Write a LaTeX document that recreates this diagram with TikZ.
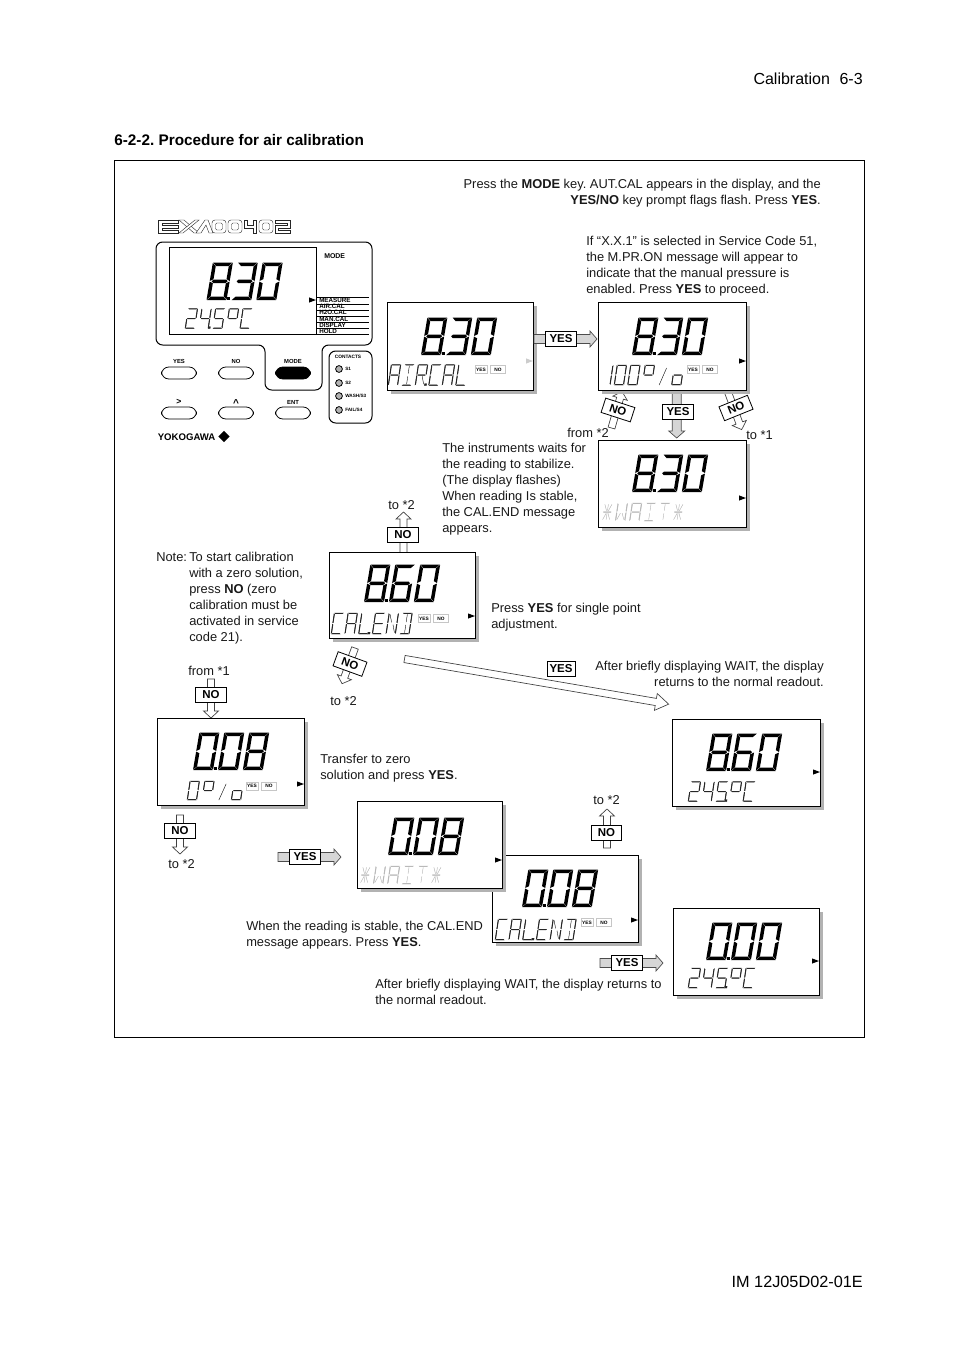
\documentclass[tikz,border=0pt]{standalone}
\usepackage{fontspec}
\setmainfont{Liberation Sans}
\usetikzlibrary{shapes.geometric}
\tikzset{
  bigseg/.style={fill=black,draw=none},
  smallseg/.style={draw=black!85,fill=black!85,line width=0.3pt},
  waitseg/.style={draw=gray!55,fill=gray!55,line width=0.3pt},
  txtn/.style={inner sep=0pt,yshift=-0.75pt,align=left,font=\fontsize{9.65}{12}\selectfont\frenchspacing,text=black!90},
  txtr/.style={inner sep=0pt,yshift=-0.75pt,align=right,font=\fontsize{9.65}{12}\selectfont\frenchspacing,text=black!90},
  keybox/.style={draw=black,line width=0.6pt,fill=white,inner sep=0pt,minimum width=23pt,minimum height=11.25pt,font=\fontsize{8.6}{10}\bfseries\selectfont},
  tag/.style={draw=gray!45,line width=0.35pt,fill=white,inner sep=0pt,minimum height=6pt,font=\fontsize{3.6}{4}\bfseries\selectfont},
  tiny/.style={inner sep=0pt,anchor=west,font=\fontsize{4.7}{5}\bfseries\selectfont},
  btnlab/.style={inner sep=0pt,font=\fontsize{4.4}{5}\bfseries\selectfont},
  hollow/.style={draw=black!75,line width=0.5pt,fill=white},
  solidarrow/.style={draw=black!70,line width=0.5pt,fill=gray!32},
  btn/.style={draw=black,line width=0.6pt,fill=white},
  logo/.style={draw=black!85,line width=0.3pt,fill=white},
}
% ---- segment geometry
\def\SGa{({\sG},\sH)--({\sW-\sG},\sH)--({\sW-\sG-\sT},{\sH-\sT})--({\sG+\sT},{\sH-\sT})--cycle}
\def\SGd{({\sG},0)--({\sW-\sG},0)--({\sW-\sG-\sT},\sT)--({\sG+\sT},\sT)--cycle}
\def\SGf{(0,{\sH-\sG})--(\sT,{\sH-\sG-\sT})--(\sT,{\sH/2+\sG+\sT/2})--(0,{\sH/2+\sG})--cycle}
\def\SGe{(0,\sG)--(\sT,{\sG+\sT})--(\sT,{\sH/2-\sG-\sT/2})--(0,{\sH/2-\sG})--cycle}
\def\SGb{(\sW,{\sH-\sG})--({\sW-\sT},{\sH-\sG-\sT})--({\sW-\sT},{\sH/2+\sG+\sT/2})--(\sW,{\sH/2+\sG})--cycle}
\def\SGc{(\sW,\sG)--({\sW-\sT},{\sG+\sT})--({\sW-\sT},{\sH/2-\sG-\sT/2})--(\sW,{\sH/2-\sG})--cycle}
\def\SGg{({\sG+\sT/2},{\sH/2})--({\sG+\sT},{\sH/2+\sT/2})--({\sW-\sG-\sT},{\sH/2+\sT/2})--({\sW-\sG-\sT/2},{\sH/2})--({\sW-\sG-\sT},{\sH/2-\sT/2})--({\sG+\sT},{\sH/2-\sT/2})--cycle}
\def\SGh{({\sW/2},{\sH-\sT-\sG})--({\sW/2},{\sH/2+\sT+\sG})}
\def\SGj{({\sW/2},{\sT+\sG})--({\sW/2},{\sH/2-\sT-\sG})}
\def\SGk{({\sW/2+.9},{\sH/2-\sT-.6})--({\sW-\sT-.8},{\sT+.8})}
\def\SGn{({\sW/2-.9},{\sH/2-\sT-.6})--({\sT+.8},{\sT+.8})}
\def\SGm{({\sW/2-.9},{\sH/2+\sT+.6})--({\sT+.8},{\sH-\sT-.8})}
\def\SGp{({\sW/2+.9},{\sH/2+\sT+.6})--({\sW-\sT-.8},{\sH-\sT-.8})}
\def\SGs{({\sW*.25},0)--({\sW*.75},{\sH*.85})}
\def\SGz{({\sW-.5},0)--({\sW+1.6},0)--({\sW+1.6},1.8)--({\sW-.5},1.8)--cycle}
\newcommand\sev[9]{\begin{scope}[shift={({#1},{#2})},y=0.75pt,xslant=#9]%
  \pgfmathsetmacro\sW{#3}\def\sH{#4}\def\sT{#5}\def\sG{#8}\edef\seglist{#6}%
  \foreach \s in \seglist{\expandafter\let\expandafter\thisseg\csname SG\s\endcsname\path[#7] \thisseg;}%
\end{scope}}
% ---- characters
\expandafter\def\csname ch0\endcsname{a,b,c,d,e,f}
\expandafter\def\csname ch1\endcsname{b,c}
\expandafter\def\csname ch2\endcsname{a,b,g,e,d}
\expandafter\def\csname ch3\endcsname{a,b,g,c,d}
\expandafter\def\csname ch4\endcsname{f,g,b,c}
\expandafter\def\csname ch5\endcsname{a,f,g,c,d}
\expandafter\def\csname ch5z\endcsname{a,f,g,c,d,z}
\expandafter\def\csname ch4z\endcsname{f,g,b,c,z}
\expandafter\def\csname ch6\endcsname{a,f,g,c,d,e}
\expandafter\def\csname ch8\endcsname{a,b,c,d,e,f,g}
\expandafter\def\csname chA\endcsname{a,b,c,e,f,g}
\expandafter\def\csname chI\endcsname{a,d,h,j}
\expandafter\def\csname chR\endcsname{a,b,e,f,g,k}
\expandafter\def\csname chRz\endcsname{a,b,e,f,g,k,z}
\expandafter\def\csname chC\endcsname{a,d,e,f}
\expandafter\def\csname chL\endcsname{d,e,f}
\expandafter\def\csname chLz\endcsname{d,e,f,z}
\expandafter\def\csname chE\endcsname{a,d,e,f,g}
\expandafter\def\csname chN\endcsname{b,c,e,f,m,k}
\expandafter\def\csname chD\endcsname{a,b,c,d,h,j}
\expandafter\def\csname chW\endcsname{b,c,e,f,k,n}
\expandafter\def\csname chT\endcsname{a,h,j}
\expandafter\def\csname chX\endcsname{h,j,g,k,n,m,p}
\expandafter\def\csname chdeg\endcsname{a,b,f,g}
\expandafter\def\csname cho\endcsname{c,d,e,g}
\expandafter\def\csname chsl\endcsname{s}
\newcommand\bignum[5]{%
  \foreach \cc [count=\ii from 0] in {#3,#4,#5}{\sev{#1+\ii*24.9}{#2}{20}{37.5}{3.5}{\csname ch\cc\endcsname}{bigseg}{0.3}{0.17}}%
  \fill[black] ({#1+20.6},{#2}) rectangle ({#1+23.6},{#2-3.2});}
\newcommand\segrow[6]{% x, base, pitch, height, style, chars
  \foreach \cc [count=\ii from 0] in {#6}{\sev{#1+\ii*#3}{#2}{9.8}{#4}{0.6}{\csname ch\cc\endcsname}{#5}{0.7}{0.15}}}
\newcommand\scr[7]{\begin{scope}\draw[draw=none,fill=gray!60] ({#2+4},{#3+4}) rectangle ({#4+4},{#5+4});
  \draw[black,line width=0.75pt,fill=white] (#2,#3) rectangle (#4,#5);\end{scope}}
\newcommand\mk[3]{\fill[#3] ({#1-7},{#2-2.6})--(#1,#2)--({#1-7},{#2+2.6})--cycle;}
\newcommand\minitag[3]{% name x y-centre
  \node[tag,minimum width=9pt] (#1y) at ({#2+6},#3) {YES};
  \node[tag,minimum width=11.5pt] (#1n) at ({#2+23},#3) {NO};}
\newcommand\blockarrow[8]{% style,x,y,angle,L,s,hw,hl
  \begin{scope}[shift={(#2,#3)},y=0.75pt,rotate=#4]
  \path[#1] (0,-#6)--({#5-#8},-#6)--({#5-#8},-#7)--(#5,0)--({#5-#8},#7)--({#5-#8},#6)--(0,#6)--cycle;
  \end{scope}}
\newcommand\zero[1]{\draw[logo,rounded corners=2.2] (#1,220) rectangle ({#1+14},233);\draw[logo,rounded corners=1] ({#1+3.5},223) rectangle ({#1+10.5},230);}
\begin{document}
\begin{tikzpicture}[x=0.75pt,y=-0.75pt]
\useasboundingbox (0,0) rectangle (954,1350);
\fill[white] (0,0) rectangle (954,1350);
% page text
\node[inner sep=0pt,anchor=base east,font=\fontsize{12}{14}\selectfont] (hdr) at (863,84) {Calibration\hspace{0.6em}6-3};
\node[inner sep=0pt,anchor=base west,font=\fontsize{11.5}{14}\bfseries\selectfont\frenchspacing] (ttl) at (114,145.5) {6-2-2. Procedure for air calibration};
\node[inner sep=0pt,anchor=base east,font=\fontsize{12.2}{14}\selectfont] (ftr) at (863,1287) {IM 12J05D02-01E};
\draw[black,line width=0.75pt] (114,160) rectangle (864,1037);
% logo
\draw[logo] (158,220)--(178,220)--(178,223)--(162,223)--(162,225)--(178,225)--(178,228)--(162,228)--(162,230)--(178,230)--(178,233)--(158,233)--cycle;
\draw[logo] (179,220)--(184,220)--(199,233)--(194,233)--cycle;
\draw[logo] (179,233)--(183,233)--(199,220)--(195,220)--cycle;
\draw[logo] (196,233)--(205,220)--(208,220)--(213,233)--(209,233)--(206,225)--(201,233)--cycle;
\zero{212}\zero{228}
\draw[logo] (244,220)--(247,220)--(247,225)--(253,225)--(253,220)--(256,220)--(256,233)--(253,233)--(253,228)--(244,228)--cycle;
\zero{259}
\draw[logo] (275,220)--(290,220)--(290,228)--(278,228)--(278,230)--(290,230)--(290,233)--(275,233)--(275,225.5)--(287,225.5)--(287,223)--(275,223)--cycle;
% front panel
\draw[black,line width=0.75pt,rounded corners=5] (156,242)--(372,242)--(372,345)--(322,345)--(322,390)--(265,390)--(265,345)--(156,345)--cycle;
\draw[black,line width=0.75pt] (169,247) rectangle (316,334);
\foreach \yy in {297.3,304,310,316,322.3,328.3,334}{\draw[black,line width=0.6pt] (316,\yy)--(369,\yy);}
\draw[black,line width=0.6pt] (316,297.3)--(316,334);
\node[tiny,font=\fontsize{5.2}{6}\bfseries\selectfont] (mh) at (324,256) {MODE};
\node[tiny] (m1) at (319,300.5) {MEASURE};
\node[tiny] (m2) at (319,306.8) {AIR.CAL};
\node[tiny] (m3) at (319,312.8) {H2O.CAL};
\node[tiny] (m4) at (319,319) {MAN.CAL};
\node[tiny] (m5) at (319,325) {DISPLAY};
\node[tiny] (m6) at (319,331) {HOLD};
\mk{316}{300}{black}
\bignum{206.5}{300}{8}{3}{0}
\segrow{185}{328.5}{13.7}{20}{smallseg}{2,4z,5,deg,C}
% buttons
\foreach \bx/\lb/\tname in {179/YES/ba,236/NO/bb,293/MODE/bc}{
  \node[btnlab] (\tname) at (\bx,361) {\lb};
  \draw[btn,rounded corners=5.5,fill=white] ({\bx-17.5},367) rectangle ({\bx+17.5},379);}
\fill[black,rounded corners=5.5] (275.5,367) rectangle (310.5,379);
\node[btnlab,font=\fontsize{6.5}{7}\bfseries\selectfont] (bd) at (179,402) {>};
\node[btnlab,font=\fontsize{7.5}{8}\bfseries\selectfont] (be) at (236,403) {\textasciicircum};
\node[btnlab] (bf) at (293,402) {ENT};
\foreach \bx in {179,236,293}{
  \draw[btn,rounded corners=5.5] ({\bx-17.5},407) rectangle ({\bx+17.5},419);}
% contacts
\draw[black,line width=0.75pt,rounded corners=5] (329,351) rectangle (372,423);
\node[btnlab,font=\fontsize{3.6}{4}\bfseries\selectfont] (ch) at (348,357) {CONTACTS};
\foreach \yy/\lb/\tname in {369/{S1}/ca,383/{S2}/cb,396/{WASH/S3}/cc,410/{FAIL/S4}/cd}{
  \draw[black,line width=0.6pt,fill=gray!60] (339,\yy) circle (3.4);
  \node[tiny,font=\fontsize{3.5}{4}\bfseries\selectfont] (\tname) at (345,\yy) {\lb};}
% yokogawa
\node[inner sep=0pt,anchor=west,font=\fontsize{7.2}{8}\bfseries\selectfont] (yk) at (157.5,437) {YOKOGAWA};
\node[diamond,fill=black,inner sep=0pt,minimum width=8.5pt,minimum height=8.5pt,aspect=1] (ykd) at (224,436.5) {};
% screens
\scr{p0}{387}{302}{533}{390}{}{}
\bignum{421}{355}{8}{3}{0}
\segrow{388}{385.5}{13.5}{21}{smallseg}{A,I,Rz,C,A,L}
\minitag{t0}{475}{369.5}
\mk{533}{361}{gray!40}

\blockarrow{solidarrow}{534}{339}{0}{63}{4.5}{8}{7}
\node[keybox] (k1) at (561,339) {YES};

\blockarrow{hollow}{611.5}{428}{74}{38}{3.5}{7.5}{7}
\blockarrow{hollow}{728}{392}{-70}{40}{3.5}{7.5}{7}
\blockarrow{solidarrow}{676.7}{392}{-90}{46}{4.5}{8}{7}

\scr{p1}{598}{302}{746}{390}{}{}
\bignum{632}{355}{8}{3}{0}
\segrow{600.5}{385}{13.5}{20}{smallseg}{1,0,0}
\segrow{642}{385}{14.7}{20}{smallseg}{deg,sl,o}
\minitag{t1}{687}{369.5}
\mk{746}{361}{black}

\scr{p2}{598}{440}{746}{527}{}{}
\bignum{632}{492}{8}{3}{0}
\segrow{601}{521}{14.2}{18}{waitseg}{X,W,A,I,T,X}
\mk{746}{498}{black}

\node[keybox,rotate=-18] (k2) at (618,410) {NO};
\node[keybox] (k3) at (678,412) {YES};
\node[keybox,rotate=22] (k4) at (736,408) {NO};

\blockarrow{hollow}{403.5}{553}{90}{41}{3.5}{7.5}{7}
\node[keybox] (k5) at (403,535) {NO};

\scr{p3}{329}{552}{475}{638}{}{}
\bignum{364}{602}{8}{6}{0}
\segrow{331}{634}{13.7}{21}{smallseg}{C,A,Lz,E,N,D}
\minitag{t3}{418}{618.5}
\mk{475}{616}{black}

\blockarrow{hollow}{355}{648}{-110}{38}{3.5}{7.5}{7}
\node[keybox,rotate=-20] (k6) at (350,664) {NO};

\blockarrow{hollow}{404.5}{659}{-9.7}{268}{3.6}{8.5}{13}
\node[keybox,minimum width=21pt] (k7) at (561,669) {YES};

\blockarrow{hollow}{211}{679}{-90}{39}{3.5}{7.5}{7}
\node[keybox] (k8) at (211,695) {NO};
\scr{p4}{157}{718}{304}{805}{}{}
\bignum{193}{770}{0}{0}{8}
\segrow{187}{800}{14.7}{19}{smallseg}{0,deg,sl,o}
\minitag{t4}{246}{786}
\mk{304}{784}{black}

\scr{p7}{672}{719}{820}{806}{}{}
\bignum{706}{771}{8}{6}{0}
\segrow{688}{801.5}{13.7}{20}{smallseg}{2,4,5z,deg,C}
\mk{820}{772}{black}

\blockarrow{hollow}{180}{815}{-90}{39}{3.5}{7.5}{7}
\node[keybox] (k9) at (180,831) {NO};

\blockarrow{solidarrow}{278}{857}{0}{63}{4.5}{8}{7}
\node[keybox] (k10) at (305,857) {YES};

\blockarrow{hollow}{607}{848}{90}{39}{3.5}{7.5}{7}
\node[keybox] (k11) at (606.5,833) {NO};

\scr{p6}{492}{855}{638}{942}{}{}
\bignum{522}{907}{0}{0}{8}
\segrow{495}{940}{13.7}{21}{smallseg}{C,A,Lz,E,N,D}
\minitag{t6}{581}{922.5}
\mk{638}{920}{black}

\scr{p5}{357}{801}{502}{888}{}{}
\bignum{388}{855}{0}{0}{8}
\segrow{359}{884}{14.2}{18}{waitseg}{X,W,A,I,T,X}
\mk{502}{860}{black}

\blockarrow{solidarrow}{600}{963}{0}{63}{4.5}{8}{7}
\node[keybox] (k12) at (627,963) {YES};

\scr{p8}{673}{908}{819}{995}{}{}
\bignum{706}{960}{0}{0}{0}
\segrow{688}{988}{13.7}{20}{smallseg}{2,4,5z,deg,C}
\mk{819}{961}{black}

% texts (top = first-line centre - 6.7)
\node[txtr,anchor=north east] (t1a) at (821,176.3) {\strut Press the \textbf{MODE} key. AUT.CAL appears in the display, and the\\\textbf{YES/NO} key prompt flags flash. Press \textbf{YES}.};
\node[txtn,anchor=north west] (t2a) at (586,233.3) {\strut If “X.X.1” is selected in Service Code 51,\\the M.PR.ON message will appear to\\indicate that the manual pressure is\\enabled. Press \textbf{YES} to proceed.};
\node[txtn,anchor=north east] (t3a) at (609,425.3) {\strut from *2};
\node[txtn,anchor=north west] (t3b) at (746,427.3) {\strut to *1};
\node[txtn,anchor=north west] (t4a) at (442,440.3) {\strut The instruments waits for\\the reading to stabilize.\\(The display flashes)\\When reading Is stable,\\the CAL.END message\\appears.};
\node[txtn,anchor=north west] (t5a) at (388,497.3) {\strut to *2};
\node[txtn,anchor=north west] (t6a) at (156,549.3) {\strut Note:};
\node[txtn,anchor=north west] (t6b) at (189,549.3) {\strut To start calibration\\with a zero solution,\\press \textbf{NO} (zero\\calibration must be\\activated in service\\code 21).};
\node[txtn,anchor=north west] (t7a) at (491,600.3) {\strut Press \textbf{YES} for single point\\adjustment.};
\node[txtn,anchor=north west] (t8a) at (330,693.3) {\strut to *2};
\node[txtn,anchor=north west] (t9a) at (188,663.3) {\strut from *1};
\node[txtr,anchor=north east] (t10a) at (824,658.3) {\strut After briefly displaying WAIT, the display\\returns to the normal readout.};
\node[txtn,anchor=north west] (t11a) at (320,751.3) {\strut Transfer to zero\\solution and press \textbf{YES}.};
\node[txtn,anchor=north west] (t12a) at (168,856.3) {\strut to *2};
\node[txtn,anchor=north west] (t13a) at (593,792.3) {\strut to *2};
\node[txtn,anchor=north west] (t14a) at (246,918.3) {\strut When the reading is stable, the CAL.END\\message appears. Press \textbf{YES}.};
\node[txtn,anchor=north west] (t15a) at (375,976.3) {\strut After briefly displaying WAIT, the display returns to\\the normal readout.};
\end{tikzpicture}
\end{document}
